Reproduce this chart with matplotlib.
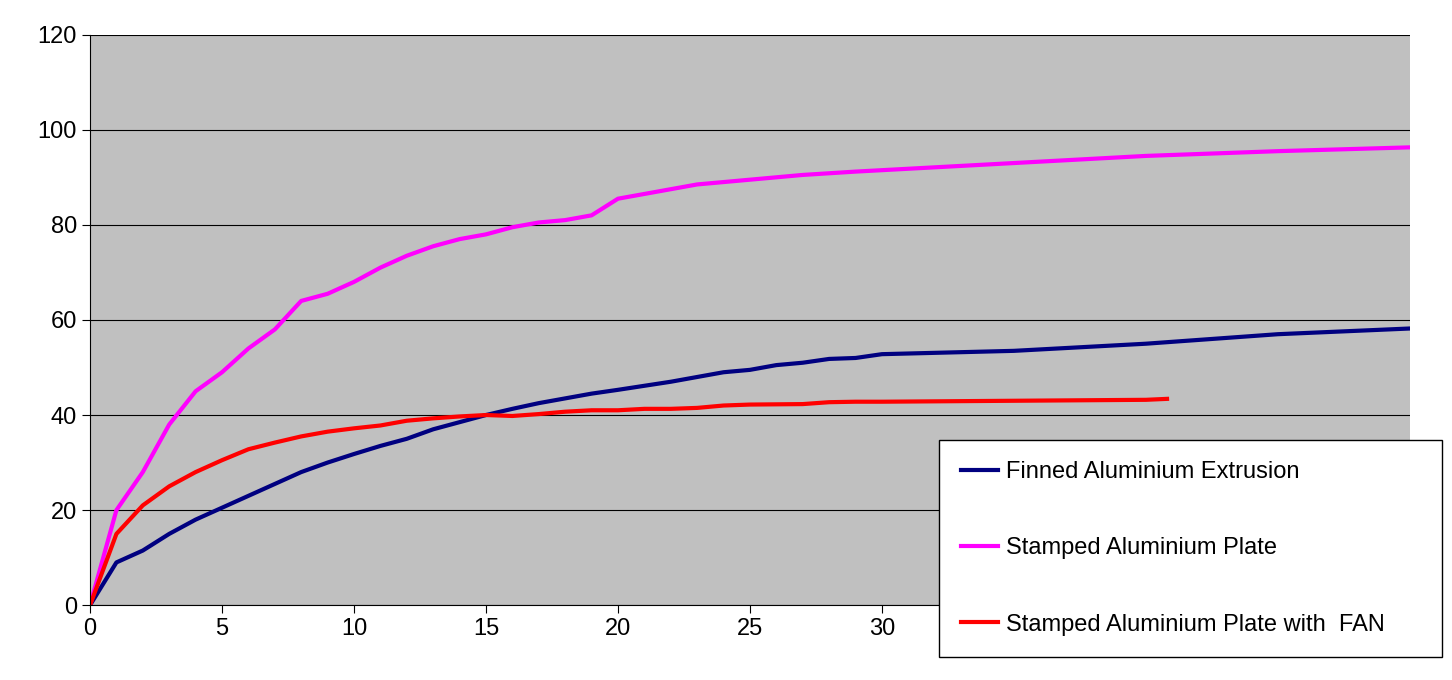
import matplotlib.pyplot as plt

plt.rcParams['font.family'] = ['Liberation Sans', 'DejaVu Sans']

# Data
x_blue = [0, 1, 2, 3, 4, 5, 6, 7, 8, 9, 10, 11, 12, 13, 14, 15, 16, 17, 18, 19, 20,
          22, 24, 25, 26, 27, 28, 29, 30, 35, 40, 45, 50]
y_blue = [0, 9, 11.5, 15, 18, 20.5, 23, 25.5, 28, 30, 31.8, 33.5, 35, 37, 38.5, 40,
          41.3, 42.5, 43.5, 44.5, 45.3, 47, 49, 49.5, 50.5, 51, 51.8, 52, 52.8, 53.5,
          55, 57, 58.2]

x_mag = [0, 1, 2, 3, 4, 5, 6, 7, 8, 9, 10, 11, 12, 13, 14, 15, 16, 17, 18, 19, 20,
         21, 22, 23, 25, 27, 29, 30, 35, 40, 45, 50]
y_mag = [0, 20, 28, 38, 45, 49, 54, 58, 64, 65.5, 68, 71, 73.5, 75.5, 77, 78, 79.5,
         80.5, 81, 82, 85.5, 86.5, 87.5, 88.5, 89.5, 90.5, 91.2, 91.5, 93, 94.5, 95.5, 96.3]

x_red = [0, 1, 2, 3, 4, 5, 6, 7, 8, 9, 10, 11, 12, 13, 14, 15, 16, 17, 18, 19, 20,
         21, 22, 23, 24, 25, 27, 28, 29, 30, 35, 40, 40.8]
y_red = [0, 15, 21, 25, 28, 30.5, 32.8, 34.2, 35.5, 36.5, 37.2, 37.8, 38.8, 39.3, 39.7,
         40, 39.8, 40.2, 40.7, 41, 41, 41.3, 41.3, 41.5, 42, 42.2, 42.3, 42.7, 42.8,
         42.8, 43, 43.2, 43.4]

fig = plt.figure(figsize=(14.52, 6.8), dpi=100)
fig.patch.set_facecolor('white')
ax = fig.add_axes([0.062, 0.110, 0.909, 0.839])
ax.set_facecolor('#c0c0c0')

ax.plot(x_blue, y_blue, color='#000080', lw=3, label='Finned Aluminium Extrusion')
ax.plot(x_mag, y_mag, color='#ff00ff', lw=3, label='Stamped Aluminium Plate')
ax.plot(x_red, y_red, color='#ff0000', lw=3, label='Stamped Aluminium Plate with  FAN')

ax.set_xlim(0, 50)
ax.set_ylim(0, 120)
ax.set_xticks(range(0, 51, 5))
ax.set_yticks(range(0, 121, 20))
ax.yaxis.grid(True, color='black', lw=0.8)
ax.set_axisbelow(True)
ax.tick_params(labelsize=17, direction='out', length=6)
for s in ['top', 'right']:
    ax.spines[s].set_visible(False)

leg = fig.legend(loc='center left', bbox_to_anchor=(0.647, 0.0235, 0.346, 0.34),
                 mode='expand', fontsize=17, frameon=True, fancybox=False,
                 edgecolor='black', facecolor='white', framealpha=1,
                 handlelength=1.6, labelspacing=2.3,
                 borderaxespad=0, handletextpad=0.3, borderpad=0.9)
leg.get_frame().set_linewidth(1)

fig.savefig('out.png', dpi=100)
